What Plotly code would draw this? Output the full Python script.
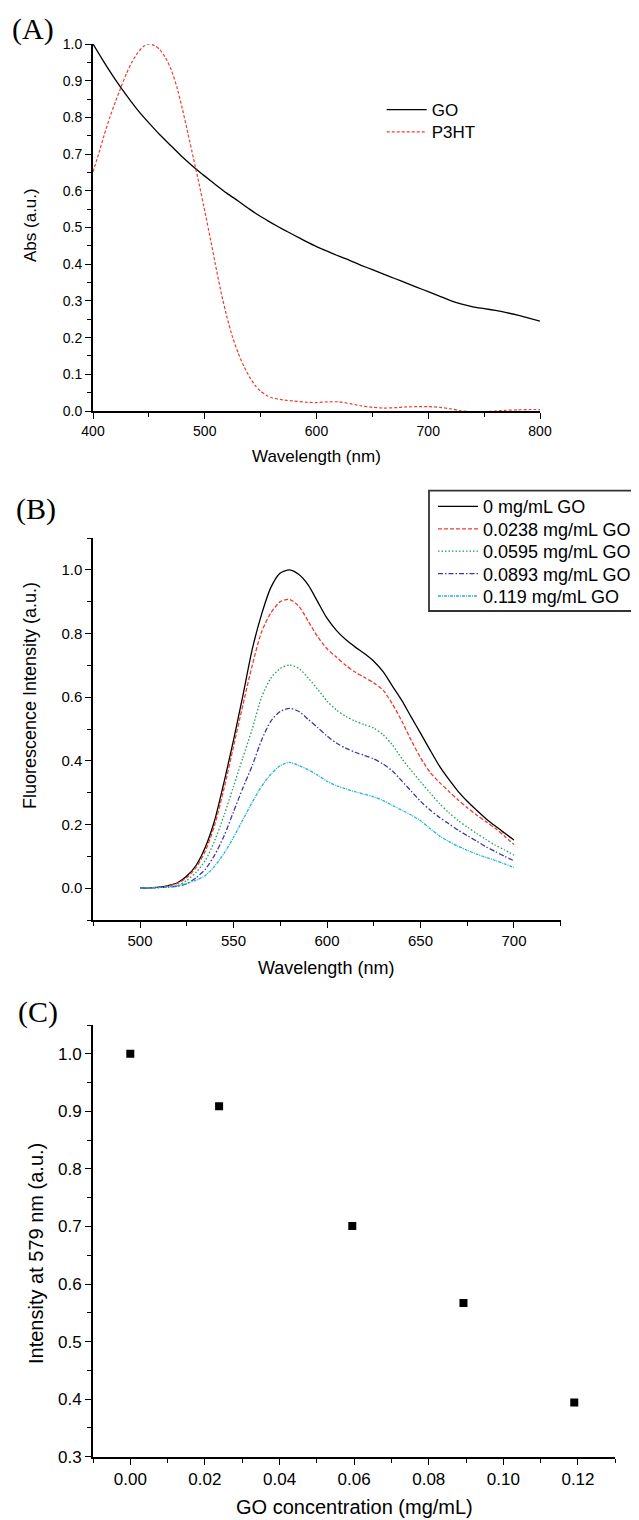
import plotly.graph_objects as go

# page is shown with an 8px body margin, so the figure is 8px smaller and all
# reference pixel positions are shifted by -8
OFF = 8
W, H = 639 - OFF, 1520 - OFF

# ---------------- Panel A data ----------------
go_wl = [400, 410, 420, 430, 440, 450, 460, 470, 480, 490, 500, 510, 520, 530, 540, 550, 560, 570,
         580, 590, 600, 610, 620, 630, 640, 650, 660, 670, 680, 690, 700, 710, 720, 730, 740, 750,
         760, 770, 780, 790, 800]
go_abs = [1.0, 0.95, 0.903, 0.86, 0.82, 0.785, 0.752, 0.722, 0.692, 0.665, 0.64, 0.616, 0.593, 0.572,
          0.55, 0.53, 0.512, 0.495, 0.479, 0.463, 0.448, 0.435, 0.422, 0.41, 0.397, 0.385, 0.373,
          0.361, 0.349, 0.337, 0.325, 0.313, 0.301, 0.291, 0.284, 0.279, 0.274, 0.268, 0.261, 0.253,
          0.245]

p3ht_wl = [400, 405, 410, 415, 420, 425, 430, 435, 440, 445, 450, 455, 460, 465, 470, 475, 480, 485,
           490, 495, 500, 505, 510, 515, 520, 525, 530, 535, 540, 545, 550, 555, 560, 570, 580, 590,
           600, 610, 620, 630, 640, 650, 660, 670, 680, 690, 700, 710, 720, 730, 740, 750, 760, 770,
           780, 790, 800]
p3ht_abs = [0.652, 0.70, 0.752, 0.80, 0.842, 0.882, 0.92, 0.952, 0.976, 0.993, 1.0, 0.996, 0.984, 0.962,
            0.93, 0.883, 0.823, 0.756, 0.687, 0.618, 0.545, 0.47, 0.392, 0.318, 0.254, 0.2, 0.157,
            0.122, 0.093, 0.07, 0.054, 0.043, 0.036, 0.03, 0.027, 0.024, 0.023, 0.025, 0.025, 0.02,
            0.014, 0.01, 0.008, 0.009, 0.011, 0.012, 0.012, 0.01, 0.006, 0.0, -0.002, -0.002, 0.0,
            0.002, 0.003, 0.004, 0.004]

# ---------------- Panel B data ----------------
fl_wl = list(range(500, 705, 5))
fl_labels = ["0 mg/mL GO", "0.0238 mg/mL GO", "0.0595 mg/mL GO", "0.0893 mg/mL GO", "0.119 mg/mL GO"]
fl_0 = [0.0, 0.001, 0.003, 0.008, 0.017, 0.038, 0.072, 0.13, 0.215, 0.335, 0.465, 0.605, 0.75, 0.86,
        0.945, 0.99, 1.0, 0.985, 0.952, 0.9, 0.848, 0.81, 0.781, 0.758, 0.737, 0.713, 0.68, 0.635,
        0.59, 0.538, 0.487, 0.435, 0.385, 0.343, 0.305, 0.273, 0.245, 0.218, 0.195, 0.173, 0.151]
fl_1 = [0.0, 0.001, 0.003, 0.007, 0.015, 0.033, 0.065, 0.118, 0.2, 0.315, 0.445, 0.575, 0.70, 0.805,
        0.865, 0.9, 0.907, 0.885, 0.838, 0.79, 0.752, 0.726, 0.7, 0.679, 0.662, 0.645, 0.622, 0.578,
        0.525, 0.465, 0.41, 0.365, 0.333, 0.305, 0.278, 0.253, 0.23, 0.209, 0.188, 0.163, 0.137]
fl_2 = [0.0, 0.001, 0.002, 0.004, 0.008, 0.024, 0.05, 0.088, 0.15, 0.23, 0.32, 0.41, 0.5, 0.6,
        0.66, 0.69, 0.701, 0.69, 0.66, 0.625, 0.588, 0.56, 0.54, 0.525, 0.514, 0.503, 0.482, 0.45,
        0.407, 0.37, 0.335, 0.3, 0.267, 0.238, 0.213, 0.192, 0.172, 0.153, 0.135, 0.12, 0.104]
fl_3 = [0.0, 0.001, 0.002, 0.003, 0.006, 0.014, 0.033, 0.06, 0.105, 0.165, 0.24, 0.315, 0.385, 0.465,
        0.525, 0.555, 0.565, 0.555, 0.53, 0.505, 0.478, 0.456, 0.44, 0.427, 0.417, 0.406, 0.39, 0.368,
        0.337, 0.305, 0.273, 0.246, 0.223, 0.203, 0.183, 0.165, 0.148, 0.13, 0.115, 0.1, 0.086]
fl_4 = [0.0, 0.001, 0.002, 0.004, 0.008, 0.015, 0.025, 0.04, 0.07, 0.11, 0.16, 0.215, 0.27, 0.32,
        0.358, 0.385, 0.395, 0.385, 0.372, 0.355, 0.336, 0.322, 0.312, 0.303, 0.295, 0.287, 0.275,
        0.26, 0.245, 0.23, 0.212, 0.188, 0.165, 0.147, 0.132, 0.119, 0.107, 0.097, 0.087, 0.076, 0.065]
fl_series = [fl_0, fl_1, fl_2, fl_3, fl_4]
fl_colors = ["#000000", "#f03a2e", "#1f9e55", "#3838a8", "#22b4d8"]
fl_dashes = ["solid", "4px,2px", "1.5px,2px", "5px,2px,1.5px,2px", "3px,1px,1px,1px"]

# ---------------- Panel C data ----------------
conc = [0.0, 0.0238, 0.0595, 0.0893, 0.119]
intensity_579 = [1.0, 0.909, 0.701, 0.567, 0.394]


def px_x(x):
    return (x - OFF) / W


def px_y(y):
    return 1 - (y - OFF) / H


FONT = "Liberation Sans, Arial, sans-serif"
SERIF = "Liberation Serif, Times New Roman, serif"

fig = go.Figure()

# Panel A
fig.add_trace(go.Scatter(x=go_wl, y=go_abs, mode="lines", name="GO",
                         line=dict(color="#000000", width=1.3, shape="spline", smoothing=0.6),
                         xaxis="x", yaxis="y", legend="legend"))
fig.add_trace(go.Scatter(x=p3ht_wl, y=p3ht_abs, mode="lines", name="P3HT",
                         line=dict(color="#f03a2e", width=1.2, dash="3px,2px", shape="spline", smoothing=0.5),
                         xaxis="x", yaxis="y", legend="legend2"))

# Panel B (one legend per entry so that rows sit at the reference spacing)
for i, (lab, ser, col, dsh) in enumerate(zip(fl_labels, fl_series, fl_colors, fl_dashes)):
    fig.add_trace(go.Scatter(x=fl_wl, y=ser, mode="lines", name=lab,
                             line=dict(color=col, width=1.3, dash=dsh, shape="spline", smoothing=0.7),
                             xaxis="x2", yaxis="y2", legend="legend%d" % (i + 3)))

# Panel C
fig.add_trace(go.Scatter(x=conc, y=intensity_579, mode="markers", showlegend=False,
                         marker=dict(symbol="square", size=8, color="#000000"),
                         xaxis="x3", yaxis="y3"))


def axis_common(size):
    return dict(showline=True, linecolor="#000000", linewidth=1.8, ticks="outside", ticklen=6,
                tickwidth=1.3, tickcolor="#000000", showgrid=False, zeroline=False,
                tickfont=dict(family=FONT, size=size, color="#000000"))


fig.update_layout(
    xaxis=dict(domain=[px_x(93), px_x(540)], anchor="y", range=[400, 800], dtick=100, tick0=400,
               minor=dict(ticks="outside", ticklen=4, dtick=50, tickcolor="#000000", tickwidth=1.2),
               **axis_common(14)),
    yaxis=dict(domain=[px_y(411), px_y(44)], anchor="x", range=[0, 1.0], dtick=0.1, tick0=0,
               tickformat=".1f",
               minor=dict(ticks="outside", ticklen=4, dtick=0.05, tickcolor="#000000", tickwidth=1.2),
               **axis_common(14)),
    xaxis2=dict(domain=[px_x(93.3), px_x(560.7)], anchor="y2", range=[475, 725], dtick=50, tick0=500,
                minor=dict(ticks="outside", ticklen=4, dtick=25, tickcolor="#000000", tickwidth=1.2),
                **axis_common(15)),
    yaxis2=dict(domain=[px_y(920), px_y(538)], anchor="x2", range=[-0.1, 1.1], dtick=0.2, tick0=0,
                tickformat=".1f",
                minor=dict(ticks="outside", ticklen=4, dtick=0.1, tickcolor="#000000", tickwidth=1.2),
                **axis_common(15)),
    xaxis3=dict(domain=[px_x(93), px_x(615.3)], anchor="y3", range=[-0.01, 0.13], dtick=0.02, tick0=0,
                tickformat=".2f",
                minor=dict(ticks="outside", ticklen=4, dtick=0.01, tickcolor="#000000", tickwidth=1.2),
                **axis_common(17)),
    yaxis3=dict(domain=[px_y(1456.7), px_y(1025)], anchor="x3", range=[0.3, 1.05], dtick=0.1, tick0=0.3,
                tickformat=".1f",
                minor=dict(ticks="outside", ticklen=4, dtick=0.05, tickcolor="#000000", tickwidth=1.2),
                **axis_common(17)),
)

legends = {}
# panel A legend rows
for name, yc in (("legend", 110), ("legend2", 132.3)):
    legends[name] = dict(x=px_x(381.7), y=px_y(yc), xanchor="left", yanchor="middle",
                         bgcolor="rgba(0,0,0,0)", borderwidth=0, itemwidth=40,
                         font=dict(family=FONT, size=17, color="#000000"))
# panel B legend rows
for i, yc in enumerate([506.7, 529.1, 551.5, 573.9, 596.3]):
    legends["legend%d" % (i + 3)] = dict(x=px_x(433), y=px_y(yc), xanchor="left", yanchor="middle",
                                        bgcolor="rgba(0,0,0,0)", borderwidth=0, itemwidth=40,
                                        font=dict(family=FONT, size=18, color="#000000"))

fig.update_layout(
    width=W, height=H, margin=dict(l=0, r=0, t=0, b=0, autoexpand=False),
    paper_bgcolor="#ffffff", plot_bgcolor="#ffffff",
    font=dict(family=FONT, color="#000000"),
    **legends,
)

# frame of the panel B legend
fig.add_shape(type="rect", xref="paper", yref="paper",
              x0=px_x(429), x1=px_x(652), y0=px_y(611), y1=px_y(490.7),
              line=dict(color="#333333", width=1.8), fillcolor="rgba(0,0,0,0)", layer="below")

annots = [
    dict(text="(A)", x=px_x(33), y=px_y(29), font=dict(family=SERIF, size=30)),
    dict(text="(B)", x=px_x(36), y=px_y(509), font=dict(family=SERIF, size=30)),
    dict(text="(C)", x=px_x(38), y=px_y(1012), font=dict(family=SERIF, size=30)),
    dict(text="Abs (a.u.)", x=px_x(31), y=px_y(225), textangle=-90, font=dict(family=FONT, size=17)),
    dict(text="Wavelength (nm)", x=px_x(316.7), y=px_y(456), font=dict(family=FONT, size=17)),
    dict(text="Fluorescence Intensity (a.u.)", x=px_x(30), y=px_y(696), textangle=-90,
         font=dict(family=FONT, size=18)),
    dict(text="Wavelength (nm)", x=px_x(326), y=px_y(968), font=dict(family=FONT, size=18)),
    dict(text="Intensity at 579 nm (a.u.)", x=px_x(36), y=px_y(1254), textangle=-90,
         font=dict(family=FONT, size=20)),
    dict(text="GO concentration (mg/mL)", x=px_x(354), y=px_y(1507), font=dict(family=FONT, size=20)),
]
for a in annots:
    a.update(xref="paper", yref="paper", showarrow=False, xanchor="center", yanchor="middle")
    a["font"]["color"] = "#000000"
fig.update_layout(annotations=annots)

fig.write_html("out.html")
